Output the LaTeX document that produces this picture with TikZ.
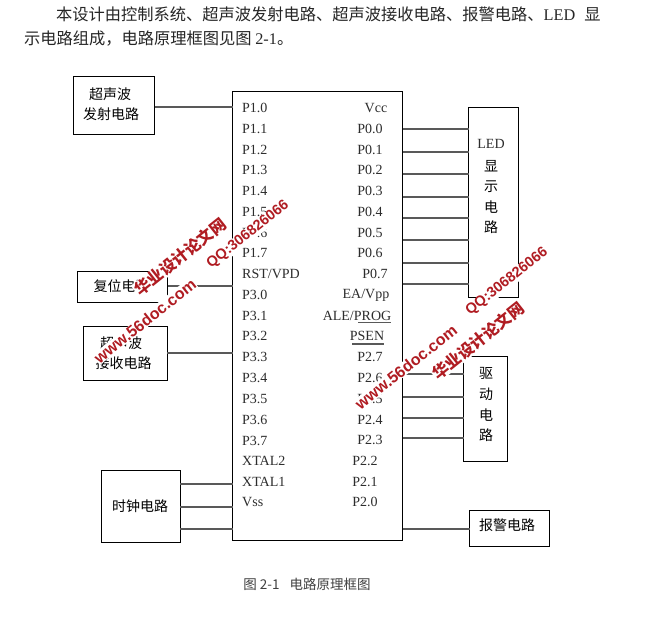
\documentclass[tikz,border=0pt]{standalone}
\usepackage{fontspec}
\setmainfont{Liberation Serif}
\newfontfamily\cjk{Noto Sans CJK SC}
\setsansfont{Liberation Sans}
\definecolor{wmred}{RGB}{176,28,34}
\definecolor{ink}{RGB}{45,45,45}
\tikzset{
  x=1pt,y=-1pt,
  box/.style={draw=black,line width=0.9pt,inner sep=0pt,outer sep=0pt,anchor=north west},
  wire/.style={draw=black!65,line width=1.1pt},
  pin/.style={font=\fontsize{14}{14}\selectfont,text=ink,inner sep=0pt},
  cn/.style={font=\cjk\fontsize{14}{14}\selectfont,inner sep=0pt,align=center},
  cnbody/.style={font=\cjk\fontsize{16.25}{16}\selectfont,inner sep=0pt,anchor=west,text=black!85},
  wm/.style={text=wmred,fill=white,inner sep=0.4pt,rotate=38.5},
  wmcn/.style={wm,font=\cjk\bfseries\fontsize{16}{16}\selectfont},
  wmen/.style={wm,font=\sffamily\bfseries\fontsize{16}{16}\selectfont},
  wmqq/.style={wm,font=\sffamily\bfseries\fontsize{14.5}{14.5}\selectfont},
}
\begin{document}
\begin{tikzpicture}
\useasboundingbox (0,0) rectangle (663,624);
\fill[white] (0,0) rectangle (663,624);
\node[cnbody] (t1) at (56,14) {本设计由控制系统、超声波发射电路、超声波接收电路、报警电路、{\rmfamily LED}\hspace{9pt}显};
\node[cnbody] (t2) at (24,39) {示电路组成，电路原理框图见图 {\rmfamily 2-1}。};

\node[box,minimum width=170pt,minimum height=449pt] (chip) at (232.5,91) {};
\node[box,minimum width=81pt,minimum height=58pt] (tx) at (73.5,76.5) {};
\node[cn] at (110,94) {超声波};
\node[cn] at (111,114) {发射电路};
\node[box,minimum width=90pt,minimum height=31pt] (rst) at (77.5,271.5) {};
\node[cn,anchor=west] at (93.5,286) {复位电路};
\node[box,minimum width=83.5pt,minimum height=54pt] (rx) at (83.5,326.5) {};
\node[cn] at (121,343) {超声波};
\node[cn] at (123.5,363) {接收电路};
\node[box,minimum width=78.5pt,minimum height=72pt] (clk) at (101.5,470.5) {};
\node[cn] at (140,506) {时钟电路};
\node[box,minimum width=50pt,minimum height=190pt] (led) at (468.5,107.5) {};
\node[pin] at (491,144) {LED};
\node[cn] at (491,166) {显};
\node[cn] at (491,187) {示};
\node[cn] at (491,207) {电};
\node[cn] at (491,227) {路};
\node[box,minimum width=44pt,minimum height=105pt] (drv) at (463.5,356.5) {};
\node[cn] at (486,373) {驱};
\node[cn] at (486,394) {动};
\node[cn] at (486,415) {电};
\node[cn] at (486,435) {路};
\node[box,minimum width=79.5pt,minimum height=36pt] (alm) at (469.5,510.5) {};
\node[cn] at (507,525) {报警电路};

\foreach \t/\y in {P1.0/108,P1.1/129,P1.2/150,P1.3/170,P1.4/191,P1.5/212,P1.6/233,P1.7/253,RST\slash VPD/274,P3.0/295,P3.1/316,P3.2/336,P3.3/357,P3.4/378,P3.5/399,P3.6/420,P3.7/441,XTAL2/461,XTAL1/482,Vss/502}
  \node[pin,anchor=west] at (242,\y) {\t};
\foreach \t/\x/\y in {Vcc/376/108,P0.0/370/129,P0.1/370/150,P0.2/370/170,P0.3/370/191,P0.4/370/212,P0.5/370/233,P0.6/370/253,P0.7/375/274,EA\slash Vpp/366/295,P2.7/370/357,P2.6/370/378,P2.5/370/399,P2.4/370/420,P2.3/370/440,P2.2/365/461,P2.1/365/482,P2.0/365/502}
  \node[pin] at (\x,\y) {\t};
\node[pin] at (357,316) {ALE/PROG};
\node[pin] at (367,336) {PSEN};
\draw[wire] (358,322.5) -- (391,322.5);
\draw[wire] (352,344) -- (384,344);

\draw[wire] (tx.east |- 0,107) -- (chip.west |- 0,107);
\draw[wire] (rst.east |- 0,286) -- (chip.west |- 0,286);
\draw[wire] (rx.east |- 0,353) -- (chip.west |- 0,353);
\foreach \y in {484,507,529} \draw[wire] (clk.east |- 0,\y) -- (chip.west |- 0,\y);
\draw[wire] (chip.east |- 0,529) -- (alm.west |- 0,529);
\foreach \y in {129,152,174,197,218,240,263,284} \draw[wire] (chip.east |- 0,\y) -- (led.west |- 0,\y);
\foreach \y in {374,397,418,438} \draw[wire] (chip.east |- 0,\y) -- (drv.west |- 0,\y);

\node[font=\cjk\fontsize{13.5}{13.5}\selectfont,text=black!75,inner sep=0pt] (cap) at (307,584) {图 2-1\hspace{7pt} 电路原理框图};

\node[wmcn] (wa1) at (180,257) {华业设计论文网};
\node[wmqq] (wa2) at (248,235) {QQ:306826066};
\node[wmen] (wa3) at (145,321) {www.56doc.com};
\node[wmcn] (wb1) at (478,341) {华业设计论文网};
\node[wmqq] (wb2) at (507,282) {QQ:306826066};
\node[wmen] (wb3) at (406,367) {www.56doc.com};
\end{tikzpicture}
\end{document}
